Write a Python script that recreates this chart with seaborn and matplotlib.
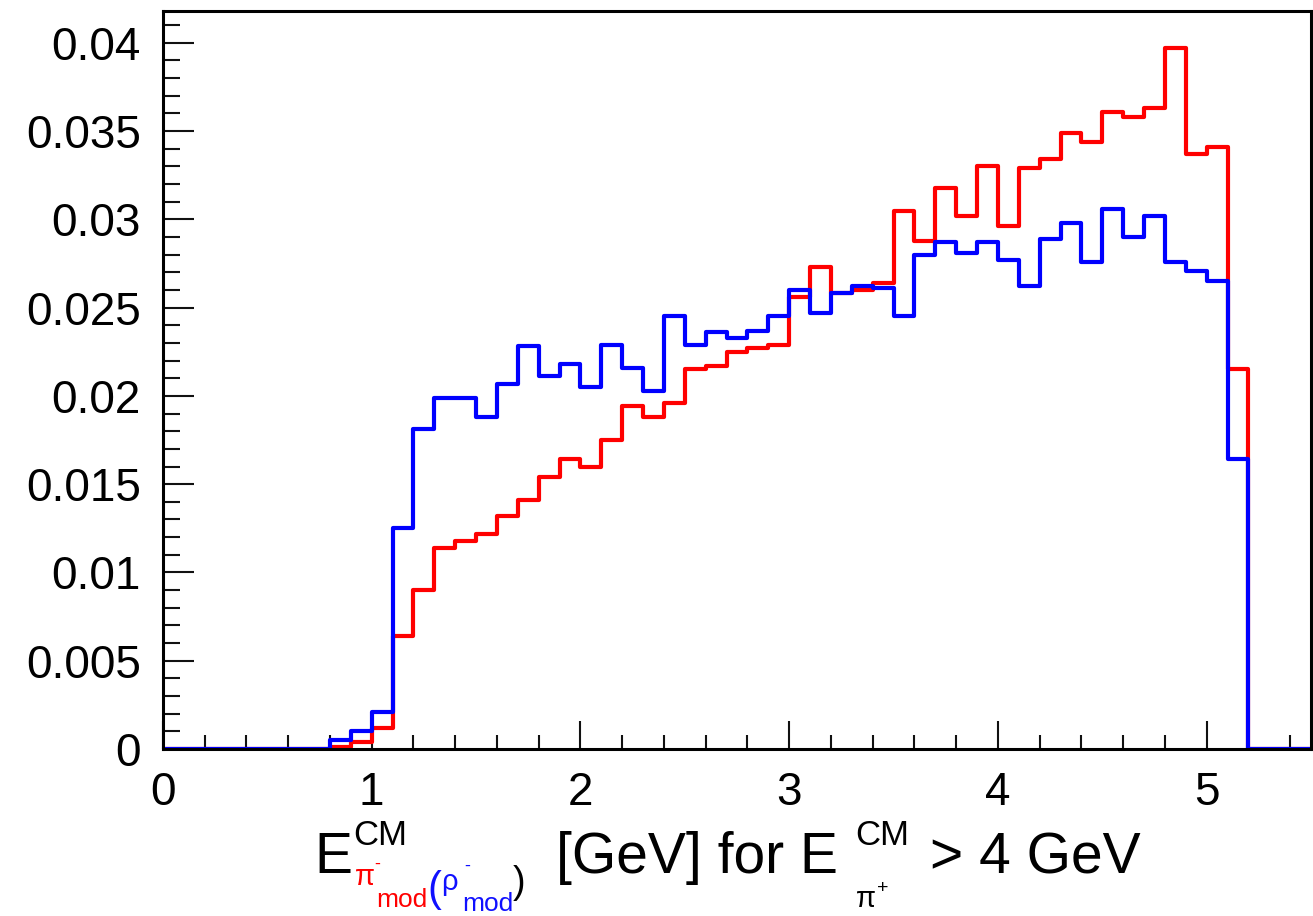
#### Histograma ROOT: energia CM do pi-/rho- modificado ####

import numpy as np
import pandas as pd
import matplotlib
matplotlib.use('Agg')
import matplotlib.pyplot as plt
from matplotlib.ticker import MultipleLocator, FuncFormatter
import seaborn as sns

#### Dados (bins de 0.1 GeV, de 0 a 5.5) ####
bordas = np.round(np.arange(0, 5.51, 0.1), 2)
centros = (bordas[:-1] + bordas[1:]) / 2

# bins 0.0-0.8 sao zero, depois 0.8 ... 5.2, depois zero ate 5.5
zeros_ini = [0.0] * 8
zeros_fim = [0.0] * 3

pi_mod = zeros_ini + [
    0.0001, 0.0004, 0.0012, 0.0064, 0.0090, 0.0114, 0.0118, 0.0122, 0.0132, 0.0141,
    0.0154, 0.0164, 0.0160, 0.0175, 0.0194, 0.0188, 0.0196, 0.0215, 0.0217, 0.0225,
    0.0227, 0.0229, 0.0256, 0.0273, 0.0258, 0.0260, 0.0264, 0.0305, 0.0288, 0.0318,
    0.0302, 0.0330, 0.0296, 0.0329, 0.0334, 0.0349, 0.0344, 0.0361, 0.0358, 0.0363,
    0.0397, 0.0337, 0.0341, 0.0215,
] + zeros_fim

rho_mod = zeros_ini + [
    0.0005, 0.0010, 0.0021, 0.0125, 0.0181, 0.0199, 0.0199, 0.0188, 0.0207, 0.0228,
    0.0211, 0.0218, 0.0205, 0.0229, 0.0216, 0.0203, 0.0245, 0.0229, 0.0236, 0.0233,
    0.0237, 0.0245, 0.0260, 0.0247, 0.0258, 0.0262, 0.0261, 0.0245, 0.0280, 0.0287,
    0.0281, 0.0287, 0.0277, 0.0262, 0.0289, 0.0298, 0.0276, 0.0306, 0.0290, 0.0302,
    0.0276, 0.0271, 0.0265, 0.0164,
] + zeros_fim

df = pd.DataFrame({'E': centros, 'pi_mod': pi_mod, 'rho_mod': rho_mod})

#### Estilo ####
sns.set_style('ticks')
plt.rcParams['font.family'] = ['Liberation Sans', 'DejaVu Sans']

fig = plt.figure(figsize=(13.13, 9.16), dpi=100)
ax = fig.add_axes([163 / 1313, (916 - 749) / 916, (1311 - 163) / 1313, (749 - 11) / 916])

sns.histplot(data=df, x='E', weights='pi_mod', bins=list(bordas), element='step',
             fill=False, color='#ff0000', linewidth=3, ax=ax)
sns.histplot(data=df, x='E', weights='rho_mod', bins=list(bordas), element='step',
             fill=False, color='#0000ff', linewidth=3, ax=ax)

ax.set_xlim(0, 5.5)
ax.set_ylim(0, 0.0418)
ax.set_xlabel('')
ax.set_ylabel('')

ax.xaxis.set_major_locator(MultipleLocator(1))
ax.xaxis.set_minor_locator(MultipleLocator(0.2))
ax.yaxis.set_major_locator(MultipleLocator(0.005))
ax.yaxis.set_minor_locator(MultipleLocator(0.001))
ax.yaxis.set_major_formatter(FuncFormatter(lambda v, p: '%g' % round(v, 4)))
ax.xaxis.set_major_formatter(FuncFormatter(lambda v, p: '%g' % v))

ax.tick_params(which='both', direction='in', labelsize=33, color='#111111',
               labelcolor='black', top=False, right=False)
ax.tick_params(axis='y', which='major', length=22, width=1.5, pad=16)
ax.tick_params(axis='y', which='minor', length=12, width=1.5)
ax.tick_params(axis='x', which='major', length=20, width=1.5, pad=16)
ax.tick_params(axis='x', which='minor', length=10, width=1.5)
for s in ax.spines.values():
    s.set_visible(True)
    s.set_linewidth(2.2)
    s.set_color('black')

#### Rotulo do eixo x (pedacos coloridos) ####
H = 916
VERM = '#ff0000'
AZUL = '#1010ff'

def texto(x, y, s, tam, cor='black'):
    fig.text(x / 1313, (H - y) / H, s, fontsize=tam, color=cor,
             ha='left', va='baseline')

texto(314, 873, 'E', 41)
texto(353, 845, 'CM', 25)
texto(355, 885, 'π', 21, VERM)
texto(374, 869, '-', 13, VERM)
texto(376, 907, 'mod', 19, VERM)
texto(427, 901, '(', 30, AZUL)
texto(441, 890, 'ρ', 21, AZUL)
texto(464, 871, '-', 13, AZUL)
texto(462, 911, 'mod', 19, AZUL)
texto(513, 893, ')', 27)
texto(556, 873, '[GeV] for E', 41)
texto(855, 845, 'CM', 25)
texto(856, 907, 'π', 21)
texto(877, 893, '+', 14)
texto(930, 873, '> 4 GeV', 41)

plt.savefig('out.png', dpi=100)
plt.close()
